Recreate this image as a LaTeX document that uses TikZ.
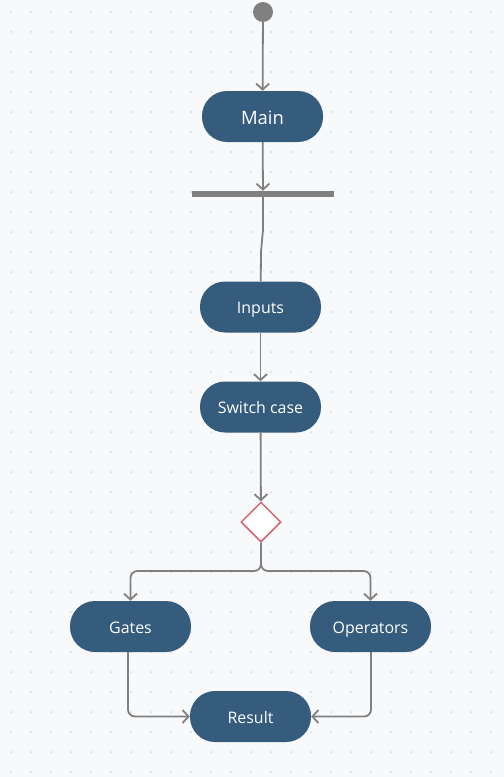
\documentclass[tikz,border=0pt]{standalone}
\usepackage{fontspec}
\setmainfont{Open Sans}
\usetikzlibrary{arrows.meta,shapes.geometric}

\definecolor{pagebg}{RGB}{248,249,251}
\definecolor{griddot}{RGB}{214,216,222}
\definecolor{actfill}{RGB}{53,91,125}
\definecolor{flowgray}{RGB}{128,128,128}
\definecolor{decred}{RGB}{214,102,110}

\tikzset{
  activity/.style={draw=none,fill=actfill,text=white,rounded corners=25bp,
    minimum width=121bp,minimum height=51bp,text height=15bp,text depth=2bp,
    font=\fontsize{16}{19}\selectfont},
  flow/.style={draw=flowgray,line width=1.8bp,-{Straight Barb[length=6bp,width=13bp]}},
  joinline/.style={draw=flowgray,line width=1.8bp}
}

\begin{document}
\begin{tikzpicture}[x=1bp,y=-1bp]

% Background and dotted grid
\fill[pagebg] (0,0) rectangle (504,777);
\useasboundingbox (0,0) rectangle (504,777);
\foreach \i in {0,...,24}
  \foreach \j in {0,...,38}
    \fill[griddot] (11+20*\i,12+20*\j) circle (1bp);

% Start, main activity and fork bar
\node[circle,fill=flowgray,minimum size=20bp,inner sep=0pt] (start) at (263,12) {};
\node[activity,text height=17bp,font=\fontsize{18.5}{22}\selectfont] (main) at (262.5,116.5) {Main};
\node[fill=flowgray,minimum width=142bp,minimum height=6bp,inner sep=0pt] (fork) at (263,194) {};

% Actions
\node[activity] (inputs) at (260.5,307) {Inputs};
\node[activity] (switch) at (260.5,407) {Switch case};
\node[diamond,draw=decred,fill=white,line width=1.5bp,minimum width=40bp,minimum height=40bp,inner sep=0pt] (dec) at (261,522) {};
\node[activity] (gates) at (130.5,626.5) {Gates};
\node[activity] (ops) at (370.5,626.5) {Operators};
\node[activity] (result) at (250.5,716.5) {Result};

% Connect everything
\draw[flow] (start) -- (main);
\draw[flow] (main) -- (fork);
\draw[joinline] (fork) -- (263,230) -- (261,252) -- (inputs);
\draw[flow] (inputs) -- (switch);
\draw[flow] (switch) -- (dec);
\draw[flow,rounded corners=7bp] (dec) -- (261,571) -| (gates);
\draw[flow,rounded corners=7bp] (dec) -- (261,571) -| (ops);
\draw[flow,rounded corners=7bp] (gates.south -| 128,0) |- (result);
\draw[flow,rounded corners=7bp] (ops.south -| 371,0) |- (result);
\end{tikzpicture}
\end{document}
